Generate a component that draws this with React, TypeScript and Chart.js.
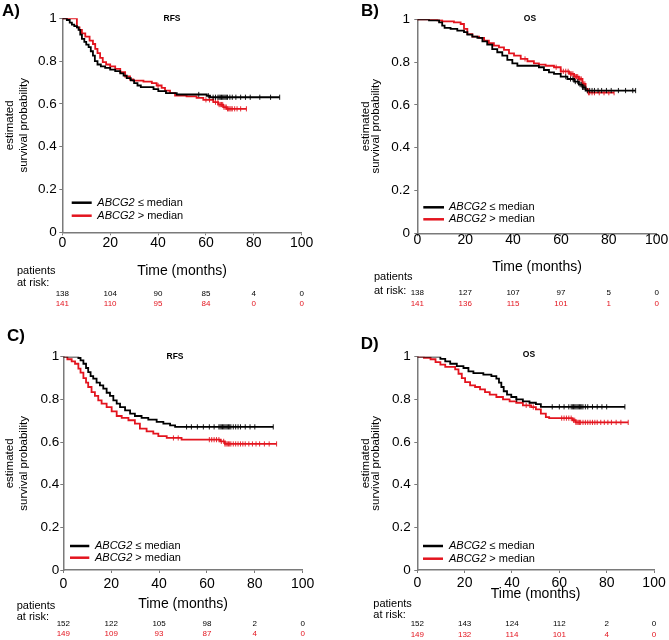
import React, { useEffect, useRef } from "react";
import { Chart, registerables } from "chart.js";

Chart.register(...registerables);

const FONT = '"Liberation Sans", Arial, Helvetica, sans-serif';
Chart.defaults.font.family = FONT;
Chart.defaults.color = "#000";

const BLACK = "#000000";
const RED = "#e3141e";
const AXIS = "#7a7a7a";

// ---------- shared ----------
const riskTimes = [0, 20, 40, 60, 80, 100];
const yTickValues = [0, 0.2, 0.4, 0.6, 0.8, 1];

// ---------- Panel A (RFS) ----------
const aLowT = [0, 1.9, 3.1, 4.0, 5.0, 6.1, 6.8, 7.5, 8.2, 9.2, 10.0, 11.0, 11.9, 12.8, 13.6, 14.7, 16.1, 17.9, 20.0, 22.1, 24.2, 25.6, 26.9, 28.6, 30.0, 31.4, 32.8, 38.1, 40.1, 43.3, 47.8, 60.3, 61.7, 90.8];
const aLowS = [1, 0.992, 0.98, 0.97, 0.963, 0.958, 0.946, 0.924, 0.904, 0.89, 0.877, 0.865, 0.846, 0.826, 0.8, 0.784, 0.775, 0.768, 0.76, 0.753, 0.743, 0.732, 0.72, 0.71, 0.697, 0.686, 0.678, 0.669, 0.66, 0.65, 0.644, 0.638, 0.631, 0.631];
const aHighT = [0, 6.1, 7.2, 8.2, 9.6, 11.4, 12.8, 13.75, 14.7, 15.8, 16.9, 18.3, 20.0, 22.1, 24.2, 26.25, 28.3, 29.7, 33.9, 37.4, 39.4, 41.5, 42.9, 45.0, 47.1, 51.9, 56.1, 58.9, 63.1, 65.1, 67.2, 68.6, 76.9];
const aHighS = [1, 0.958, 0.946, 0.93, 0.914, 0.896, 0.88, 0.857, 0.837, 0.815, 0.795, 0.784, 0.775, 0.764, 0.748, 0.728, 0.714, 0.709, 0.704, 0.697, 0.686, 0.675, 0.662, 0.65, 0.639, 0.635, 0.628, 0.619, 0.608, 0.597, 0.585, 0.577, 0.577];
const aLowCens = [57, 61, 63, 64, 65, 65.5, 66, 66.5, 67, 67.5, 68, 68.5, 69, 70, 71, 72.5, 74.5, 76.5, 78.5, 82.5, 87, 90.8];
const aHighCens = [40, 60, 61.5, 63, 64, 65, 65.5, 66, 66.5, 67, 67.5, 68, 68.5, 69, 69.5, 70, 70.5, 71, 72, 73, 74.5, 76.9];
const aLowRisk = [138, 104, 90, 85, 4, 0];
const aHighRisk = [141, 110, 95, 84, 0, 0];

// ---------- Panel B (OS) ----------
const bLowT = [0, 4.9, 9.1, 10.4, 11.4, 13.9, 16.7, 19.5, 20.9, 23.0, 25.1, 27.2, 29.2, 31.3, 33.4, 35.5, 37.6, 39.7, 41.8, 50.8, 52.9, 55.0, 57.1, 59.9, 62.7, 65.5, 67.5, 69.0, 70.3, 91.2];
const bLowS = [1, 0.995, 0.986, 0.97, 0.96, 0.955, 0.947, 0.94, 0.928, 0.919, 0.913, 0.897, 0.882, 0.861, 0.846, 0.83, 0.81, 0.794, 0.783, 0.776, 0.763, 0.752, 0.745, 0.732, 0.721, 0.709, 0.695, 0.682, 0.667, 0.667];
const bHighT = [0, 8.4, 10.4, 15.3, 18.1, 19.5, 20.9, 23.0, 25.8, 27.9, 29.9, 32.0, 34.1, 36.2, 38.3, 40.4, 43.2, 46.0, 48.7, 50.8, 53.6, 57.1, 59.9, 63.4, 65.5, 67.5, 69.0, 70.3, 71.3, 82.2];
const bHighS = [1, 0.995, 0.99, 0.986, 0.978, 0.955, 0.931, 0.919, 0.913, 0.9, 0.888, 0.877, 0.869, 0.857, 0.841, 0.83, 0.815, 0.804, 0.794, 0.788, 0.783, 0.776, 0.757, 0.745, 0.732, 0.721, 0.698, 0.674, 0.657, 0.657];
const bLowCens = [62, 64, 65, 66, 67, 68, 68.5, 69, 69.5, 70, 71, 72, 73, 74, 75.5, 77, 79, 81, 84, 87, 90, 91.2];
const bHighCens = [45, 58, 60, 61, 62, 63, 64, 64.5, 65, 65.5, 66, 66.5, 67, 67.5, 68, 68.5, 69, 69.5, 70, 71.5, 72, 73, 74, 76, 78, 80, 82.2];
const bLowRisk = [138, 127, 107, 97, 5, 0];
const bHighRisk = [141, 136, 115, 101, 1, 0];

// ---------- Panel C (RFS) ----------
const cLowT = [0, 6.3, 7.2, 8.4, 9.5, 10.4, 11.4, 12.5, 13.9, 15.3, 16.7, 18.1, 19.5, 20.9, 22.3, 23.7, 25.8, 27.9, 29.9, 32.7, 35.5, 39.0, 41.8, 44.6, 46.7, 87.7];
const cLowS = [1, 0.994, 0.983, 0.967, 0.947, 0.928, 0.909, 0.897, 0.878, 0.866, 0.85, 0.831, 0.816, 0.795, 0.78, 0.764, 0.748, 0.733, 0.722, 0.713, 0.705, 0.694, 0.686, 0.678, 0.671, 0.671];
const cHighT = [0, 1.7, 3.5, 4.9, 6.3, 7.2, 8.4, 9.5, 10.4, 11.8, 13.2, 14.6, 16.0, 18.1, 20.2, 22.3, 24.4, 27.2, 29.9, 32.0, 34.8, 37.6, 39.7, 43.2, 49.4, 65.5, 67.5, 89.1];
const cHighS = [1, 0.988, 0.978, 0.967, 0.944, 0.925, 0.9, 0.878, 0.858, 0.834, 0.816, 0.795, 0.78, 0.764, 0.744, 0.722, 0.713, 0.702, 0.686, 0.663, 0.65, 0.639, 0.628, 0.619, 0.611, 0.603, 0.591, 0.591];
const cLowCens = [51.5, 53.5, 56, 58.5, 61, 63, 65, 65.5, 66, 66.5, 67, 67.5, 68, 68.5, 69, 69.5, 70, 71, 72, 73, 74, 76, 78, 80, 87.7];
const cHighCens = [46, 48, 61, 62, 63, 64, 65, 66, 67, 67.5, 68, 68.5, 69, 69.5, 70, 71, 72, 73, 74, 75, 76, 77.5, 79, 80.5, 82, 84, 86, 89.1];
const cLowRisk = [152, 122, 105, 98, 2, 0];
const cHighRisk = [149, 109, 93, 87, 4, 0];

// ---------- Panel D (OS) ----------
const dLowT = [0, 9.75, 11.8, 13.9, 16.7, 19.5, 21.6, 23.7, 27.9, 31.3, 33.4, 34.5, 35.5, 36.5, 37.9, 39.7, 41.8, 44.6, 47.4, 50.1, 52.2, 87.7];
const dLowS = [1, 0.99, 0.978, 0.967, 0.956, 0.947, 0.931, 0.923, 0.916, 0.909, 0.897, 0.878, 0.858, 0.838, 0.822, 0.811, 0.8, 0.791, 0.784, 0.778, 0.765, 0.765];
const dHighT = [0, 2.8, 5.6, 7.7, 9.75, 11.8, 16.0, 17.4, 18.8, 20.2, 22.3, 24.4, 26.5, 28.6, 30.6, 33.4, 36.2, 39.0, 41.8, 44.6, 48.1, 50.1, 52.2, 54.3, 55.7, 65.5, 66.9, 89.1];
const dHighS = [1, 0.995, 0.988, 0.975, 0.963, 0.952, 0.941, 0.92, 0.9, 0.881, 0.866, 0.858, 0.847, 0.834, 0.822, 0.811, 0.8, 0.791, 0.784, 0.772, 0.764, 0.753, 0.733, 0.717, 0.712, 0.702, 0.692, 0.692];
const dLowCens = [42, 57, 60, 62, 64, 65, 65.5, 66, 66.5, 67, 67.5, 68, 68.5, 69, 69.5, 70, 71, 72, 74, 76, 78, 80, 87.7];
const dHighCens = [46, 47.5, 49, 61, 62, 63, 64, 65, 66, 66.5, 67, 67.5, 68, 68.5, 69, 70, 71, 72, 73, 74, 75, 76, 77.5, 79, 80.5, 82, 84, 86, 89.1];
const dLowRisk = [152, 143, 124, 112, 2, 0];
const dHighRisk = [149, 132, 114, 101, 4, 0];

// ---------- helpers ----------
function stepValue(ts: number[], ss: number[], t: number): number {
  let v = ss[0];
  for (let i = 0; i < ts.length; i++) {
    if (ts[i] <= t) v = ss[i];
    else break;
  }
  return v;
}

type PanelCfg = {
  letter: string;
  title: string;
  left: number;
  top: number;
  w: number;
  h: number;
  lowT: number[];
  lowS: number[];
  highT: number[];
  highS: number[];
  lowCens: number[];
  highCens: number[];
  lowRisk: number[];
  highRisk: number[];
  axisLeft: number;
  axisRight: number;
  plotTop: number;
  plotBottom: number;
  yTickPad: number;
  xTickPad: number;
  xTitlePadB: number;
  yTitleLH: number;
  yTitlePadTop: number;
  labelPos: [number, number];
  titlePos: [number, number];
  legend: { x1: number; x2: number; y1: number; y2: number; tx: number };
  patientsPos: [number, number, number];
  riskY: [number, number];
};

const XH = 50;

const PANELS: PanelCfg[] = [
  {
    letter: "A)", title: "RFS", left: 0, top: 0, w: 334, h: 320,
    lowT: aLowT, lowS: aLowS, highT: aHighT, highS: aHighS,
    lowCens: aLowCens, highCens: aHighCens, lowRisk: aLowRisk, highRisk: aHighRisk,
    axisLeft: 62.3, axisRight: 301.7, plotTop: 18.3, plotBottom: 232.3,
    yTickPad: 2.6, xTickPad: 1.2, xTitlePadB: 3.2, yTitleLH: 14, yTitlePadTop: 3,
    labelPos: [2, 11], titlePos: [172, 18.5],
    legend: { x1: 71.7, x2: 91.7, y1: 202.7, y2: 215.7, tx: 97.3 },
    patientsPos: [17, 271, 282.7], riskY: [293.3, 304],
  },
  {
    letter: "B)", title: "OS", left: 334, top: 0, w: 335, h: 320,
    lowT: bLowT, lowS: bLowS, highT: bHighT, highS: bHighS,
    lowCens: bLowCens, highCens: bHighCens, lowRisk: bLowRisk, highRisk: bHighRisk,
    axisLeft: 83.3, axisRight: 322.7, plotTop: 19.3, plotBottom: 233.3,
    yTickPad: 4.3, xTickPad: -3, xTitlePadB: 8.2, yTitleLH: 10, yTitlePadTop: 27.3,
    labelPos: [27, 11], titlePos: [196, 19],
    legend: { x1: 89.3, x2: 110, y1: 207.3, y2: 219.3, tx: 115 },
    patientsPos: [40, 277.3, 290.7], riskY: [292.7, 304],
  },
  {
    letter: "C)", title: "RFS", left: 0, top: 320, w: 334, h: 320,
    lowT: cLowT, lowS: cLowS, highT: cHighT, highS: cHighS,
    lowCens: cLowCens, highCens: cHighCens, lowRisk: cLowRisk, highRisk: cHighRisk,
    axisLeft: 63.3, axisRight: 302.7, plotTop: 36.7, plotBottom: 250,
    yTickPad: 1, xTickPad: 4, xTitlePadB: 7.6, yTitleLH: 14, yTitlePadTop: 3,
    labelPos: [7, 16], titlePos: [175, 36.7],
    legend: { x1: 70, x2: 89.3, y1: 226, y2: 237.7, tx: 95 },
    patientsPos: [16.7, 286, 296.7], riskY: [303.3, 314],
  },
  {
    letter: "D)", title: "OS", left: 334, top: 320, w: 335, h: 320,
    lowT: dLowT, lowS: dLowS, highT: dHighT, highS: dHighS,
    lowCens: dLowCens, highCens: dHighCens, lowRisk: dLowRisk, highRisk: dHighRisk,
    axisLeft: 83.3, axisRight: 322.7, plotTop: 36.7, plotBottom: 250,
    yTickPad: 3.6, xTickPad: 3.3, xTitlePadB: 17.6, yTitleLH: 10, yTitlePadTop: 27.3,
    labelPos: [26.7, 24], titlePos: [195, 35],
    legend: { x1: 89, x2: 109, y1: 226, y2: 238.7, tx: 115 },
    patientsPos: [39.3, 284.3, 295], riskY: [304, 314.7],
  },
];

function KMPanel({ cfg }: { cfg: PanelCfg }) {
  const ref = useRef<HTMLCanvasElement | null>(null);

  useEffect(() => {
    if (!ref.current) return;
    const c = cfg;
    const overlay = {
      id: "kmOverlay" + c.letter,
      afterDraw(chart: any) {
        const ctx: CanvasRenderingContext2D = chart.ctx;
        const xs = chart.scales.x;
        ctx.save();
        ctx.textBaseline = "middle";
        // panel letter
        ctx.fillStyle = "#000";
        ctx.textAlign = "left";
        ctx.font = `bold 17px ${FONT}`;
        ctx.fillText(c.letter, c.labelPos[0], c.labelPos[1]);
        // title
        ctx.textAlign = "center";
        ctx.font = `bold 8.5px ${FONT}`;
        ctx.fillText(c.title, c.titlePos[0], c.titlePos[1]);
        // legend
        const lg = c.legend;
        const rows: [number, string, string][] = [
          [lg.y1, BLACK, " \u2264 median"],
          [lg.y2, RED, " > median"],
        ];
        rows.forEach(([y, col, rest]) => {
          ctx.strokeStyle = col;
          ctx.lineWidth = 2.5;
          ctx.beginPath();
          ctx.moveTo(lg.x1, y);
          ctx.lineTo(lg.x2, y);
          ctx.stroke();
          ctx.fillStyle = "#000";
          ctx.textAlign = "left";
          ctx.font = `italic 11px ${FONT}`;
          ctx.fillText("ABCG2", lg.tx, y);
          const w = ctx.measureText("ABCG2").width;
          ctx.font = `11px ${FONT}`;
          ctx.fillText(rest, lg.tx + w, y);
        });
        // patients at risk
        ctx.font = `11px ${FONT}`;
        ctx.fillStyle = "#000";
        ctx.textAlign = "left";
        ctx.fillText("patients", c.patientsPos[0], c.patientsPos[1]);
        ctx.fillText("at risk:", c.patientsPos[0], c.patientsPos[2]);
        ctx.font = `8px ${FONT}`;
        ctx.textAlign = "center";
        riskTimes.forEach((t, i) => {
          const px = xs.getPixelForValue(t);
          ctx.fillStyle = BLACK;
          ctx.fillText(String(c.lowRisk[i]), px, c.riskY[0]);
          ctx.fillStyle = RED;
          ctx.fillText(String(c.highRisk[i]), px, c.riskY[1]);
        });
        ctx.restore();
      },
    };

    const lineDs = (ts: number[], ss: number[], col: string) => ({
      type: "line" as const,
      data: ts.map((t, i) => ({ x: t, y: ss[i] })),
      borderColor: col,
      backgroundColor: col,
      borderWidth: 1.8,
      stepped: "before" as const,
      pointRadius: 0,
      fill: false,
    });
    const censDs = (cens: number[], ts: number[], ss: number[], col: string) => ({
      type: "scatter" as const,
      data: cens.map((t) => ({ x: t, y: stepValue(ts, ss, t) })),
      borderColor: col,
      backgroundColor: col,
      pointStyle: "line" as const,
      rotation: 90,
      pointRadius: 2.6,
      pointBorderWidth: 0.9,
      showLine: false,
    });

    const chart = new Chart(ref.current, {
      type: "line",
      data: {
        datasets: [
          lineDs(c.lowT, c.lowS, BLACK),
          censDs(c.lowCens, c.lowT, c.lowS, BLACK),
          lineDs(c.highT, c.highS, RED),
          censDs(c.highCens, c.highT, c.highS, RED),
        ] as any,
      },
      options: {
        responsive: false,
        animation: false,
        devicePixelRatio: 1,
        events: [],
        layout: {
          padding: {
            left: 0,
            right: c.w - c.axisRight,
            top: c.plotTop,
            bottom: c.h - c.plotBottom - XH,
          },
        },
        plugins: {
          legend: { display: false },
          tooltip: { enabled: false },
          title: { display: false },
        },
        scales: {
          x: {
            type: "linear",
            min: 0,
            max: 100,
            afterBuildTicks: (s: any) => {
              s.ticks = riskTimes.map((v) => ({ value: v }));
            },
            ticks: {
              font: { size: 14, lineHeight: 1 },
              color: "#000",
              padding: c.xTickPad,
              maxRotation: 0,
              autoSkip: false,
            },
            grid: { drawOnChartArea: false, drawTicks: true, tickLength: 3, color: AXIS, lineWidth: 1 },
            border: { display: true, color: AXIS, width: 1.5 },
            title: {
              display: true,
              text: "Time (months)",
              font: { size: 14 },
              color: "#000",
              padding: { top: 0, bottom: c.xTitlePadB },
            },
            afterFit: (s: any) => {
              s.height = XH;
            },
          },
          y: {
            type: "linear",
            min: 0,
            max: 1,
            afterBuildTicks: (s: any) => {
              s.ticks = yTickValues.map((v) => ({ value: v }));
            },
            ticks: {
              font: { size: 13.5, lineHeight: 1 },
              color: "#000",
              padding: c.yTickPad,
              callback: (v: any) => String(Number(Number(v).toFixed(1))),
            },
            grid: { drawOnChartArea: false, drawTicks: true, tickLength: 3, color: AXIS, lineWidth: 1 },
            border: { display: true, color: AXIS, width: 1.5 },
            title: {
              display: true,
              text: ["estimated", "survival probability"],
              font: { size: 11.5, lineHeight: c.yTitleLH + "px" },
              color: "#000",
              padding: { top: c.yTitlePadTop, bottom: 0 },
            },
            afterFit: (s: any) => {
              s.width = c.axisLeft;
            },
          },
        },
      } as any,
      plugins: [overlay],
    });
    return () => chart.destroy();
  }, [cfg]);

  return (
    <div style={{ position: "absolute", left: cfg.left, top: cfg.top, width: cfg.w, height: cfg.h }}>
      <canvas ref={ref} width={cfg.w} height={cfg.h} style={{ display: "block", width: cfg.w, height: cfg.h }} />
    </div>
  );
}

export default function App() {
  return (
    <div style={{ position: "absolute", left: 0, top: 0, width: 669, height: 640, background: "#fff", overflow: "hidden" }}>
      {PANELS.map((p) => (
        <KMPanel key={p.letter} cfg={p} />
      ))}
    </div>
  );
}
